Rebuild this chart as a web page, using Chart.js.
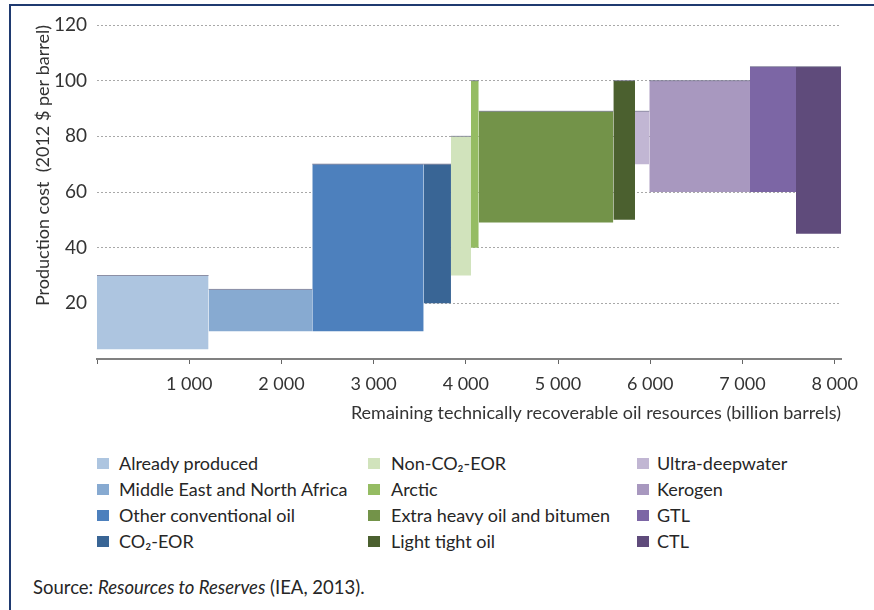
<!DOCTYPE html>
<html><head><meta charset="utf-8">
<script src="https://cdn.jsdelivr.net/npm/chart.js@4.4.1/dist/chart.umd.min.js"></script>
<style>
html,body{margin:0;padding:0;background:#fff;width:874px;height:610px;overflow:hidden;font-family:Lato,'Liberation Sans',sans-serif;color:#262626}
#frame{position:absolute;left:9px;top:4px;width:900px;height:700px;border-top:2px solid #1f3a70;border-left:2px solid #1f3a70;}
#wrap{position:absolute;left:0;top:0;width:874px;height:440px}
.leg{position:absolute;font-size:18px;line-height:22px;white-space:nowrap}
.sw{position:absolute;width:12px;height:11px}
#src{position:absolute;left:33px;top:576px;font-size:18.5px;line-height:22px}
</style></head><body>
<div id="frame"></div>
<div id="wrap"><canvas id="c" width="874" height="440"></canvas></div>
<div id="legend"></div>
<div id="src">Source: <i>Resources to Reserves</i> (IEA, 2013).</div>
<script>
const categories = ["Already produced","Middle East and North Africa","Other conventional oil","CO\u2082-EOR",
  "Non-CO\u2082-EOR","Arctic","Extra heavy oil and bitumen","Light tight oil",
  "Ultra-deepwater","Kerogen","GTL","CTL"];
const colors = ["#adc5e0","#87aad1","#4d80bd","#396595",
  "#d1e3bc","#95bc63","#739349","#4b602f",
  "#c1b6d3","#a898bf","#7c66a5","#5f4b7b"];
const xStart = [0,1210,2335,3543,3839,4056,4140,5600,5835,5990,7082,7581];
const xEnd   = [1210,2335,3543,3839,4056,4140,5600,5835,5990,7082,7581,8069];
const costHigh = [30,25,70,70,80,100,89,100,89,100,105,105];
const costLow  = [3.5,10,10,20,30,40,49,50,70,60,60,45];
const xTicks = [0,1000,2000,3000,4000,5000,6000,7000,8000];
const yTicks = [0,20,40,60,80,100,120];

const FAM = "Lato, 'Liberation Sans', sans-serif";
function fmt(v){ return v===0 ? '' : Math.floor(v/1000)+' '+String(v%1000).padStart(3,'0'); }

const datasets = categories.map((name,i)=>({
  label:name,
  data:[{x:xStart[i],y:costHigh[i]},{x:xEnd[i],y:costHigh[i]}],
  backgroundColor:colors[i],
  borderColor:'rgba(115,115,140,0.75)',
  borderWidth:1,
  pointRadius:0,
  tension:0,
  fill:{value:costLow[i]}
}));

new Chart(document.getElementById('c'),{
  type:'line',
  data:{datasets},
  options:{
    responsive:false,
    animation:false,
    layout:{padding:{left:0,right:33,top:25,bottom:0}},
    plugins:{legend:{display:false},tooltip:{enabled:false}},
    scales:{
      x:{type:'linear',min:0,max:8069,
        afterBuildTicks:s=>{s.ticks=xTicks.map(v=>({value:v}));},
        ticks:{callback:v=>fmt(v),font:{size:18,family:FAM},color:'#333',padding:9,maxRotation:0,autoSkip:false},
        grid:{drawOnChartArea:false,drawTicks:true,tickLength:5,color:'#666',lineWidth:1},
        border:{display:true,color:'#808080',width:2},
        title:{display:true,text:'Remaining technically recoverable oil resources (billion barrels)',align:'end',
          font:{size:18,family:FAM},color:'#333',padding:{top:0,bottom:16}},
        afterFit:s=>{s.height=81;}
      },
      y:{min:0,max:120,
        afterBuildTicks:s=>{s.ticks=yTicks.map(v=>({value:v}));},
        ticks:{callback:v=>v===0?'':String(v),font:{size:19,family:FAM},color:'#333',padding:10},
        grid:{color:c=>(c.tick && c.tick.value===0)?'rgba(0,0,0,0)':'#a8a8a8',lineWidth:1,drawTicks:false},
        border:{display:false,dash:[2,2]},
        title:{display:true,text:'Production cost  (2012 $ per barrel)',align:'end',
          font:{size:18,family:FAM},color:'#333',padding:{top:32,bottom:0}},
        afterFit:s=>{s.width=97;}
      }
    }
  }
});

const legend = document.getElementById('legend');
const swX = [97,368,637], txX = [119,391,657], rowY = [463,489,515,541];
categories.forEach((name,i)=>{
  const col = Math.floor(i/4), row = i%4;
  const sw = document.createElement('div');
  sw.className='sw'; sw.style.left=swX[col]+'px'; sw.style.top=(rowY[row]-5.5)+'px'; sw.style.background=colors[i];
  legend.appendChild(sw);
  const t = document.createElement('div');
  t.className='leg'; t.style.left=txX[col]+'px'; t.style.top=(rowY[row]-11)+'px'; t.textContent=name;
  legend.appendChild(t);
});
</script>
</body></html>
